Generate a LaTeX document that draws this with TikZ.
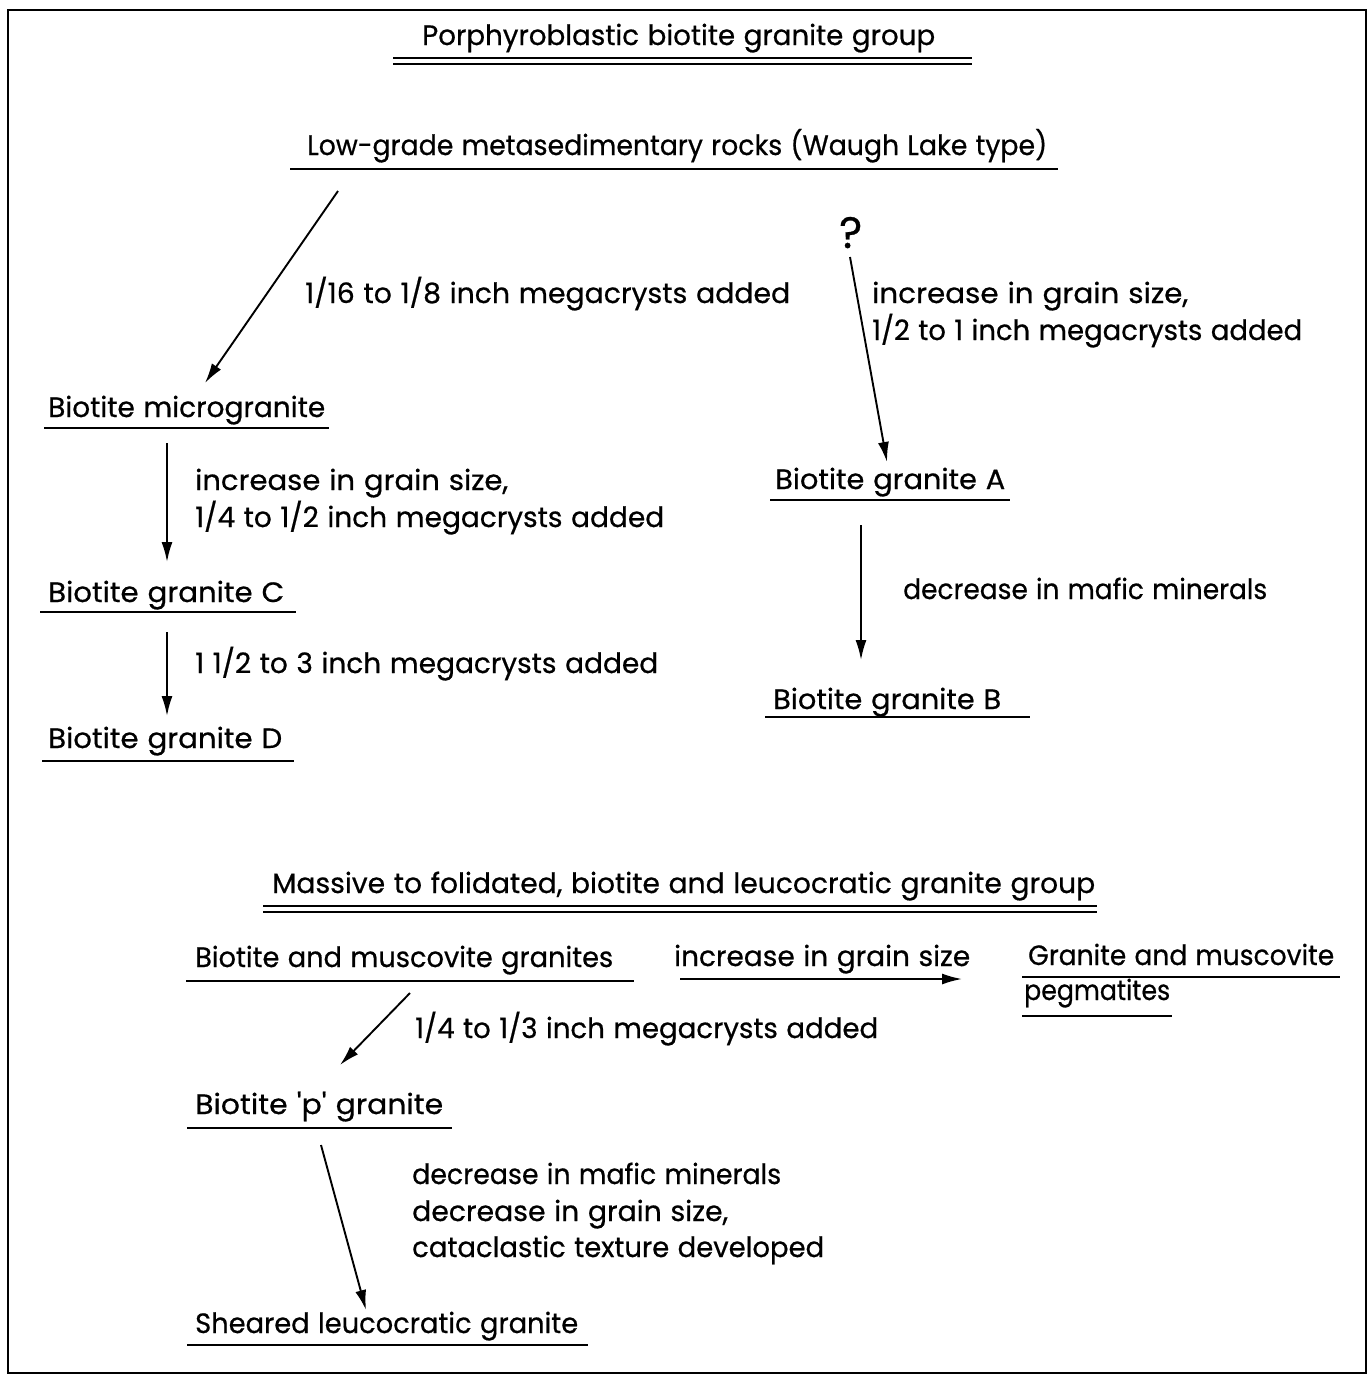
\documentclass[tikz,border=0pt]{standalone}
\usepackage{fontspec}
\setmainfont[WordSpace=1.15,FakeBold=0.6]{Poppins}
\usetikzlibrary{arrows.meta}
\newcommand\fitw[2]{\resizebox{#1pt}{\height}{#2}}
\tikzset{
  lbl/.style={anchor=base west, inner sep=0pt, font=\fontsize{28}{28}\selectfont},
  uline/.style={line width=2.2pt},
  conn/.style={line width=1.9pt, -{Latex[length=20pt,width=11pt]}},
  frame/.style={line width=1.8pt}
}
\begin{document}
\begin{tikzpicture}[x=1pt,y=-1pt]
\useasboundingbox (0,0) rectangle (1372,1376);
\draw[frame] (8,10) rectangle (1366,1373);
% titles
\node[lbl] (t1) at (422,45) {\fitw{513}{Porphyroblastic biotite granite group}};
\draw[uline] (393,58) -- (972,58);
\draw[uline] (393,64) -- (972,64);
\node[lbl] (low) at (307,155) {\fitw{740}{Low-grade metasedimentary rocks (Waugh Lake type)}};
\draw[uline] (290,169) -- (1058,169);
% left branch
\node[lbl] (bm) at (48,417) {\fitw{277}{Biotite microgranite}};
\draw[uline] (44,428) -- (329,428);
\node[lbl] (bc) at (48,602) {\fitw{236}{Biotite granite C}};
\draw[uline] (40,612) -- (296,612);
\node[lbl] (bd) at (48,748) {\fitw{234}{Biotite granite D}};
\draw[uline] (42,761) -- (294,761);
\coordinate (a1s) at (338,191); \coordinate (a1e) at (205,383);
\draw[conn] (a1s) -- (a1e);
\node[lbl] (l1) at (305,303) {\fitw{485}{1/16 to 1/8 inch megacrysts added}};
\coordinate (a2s) at (167,443); \coordinate (a2e) at (167,562);
\draw[conn] (a2s) -- (a2e);
\node[lbl] (l2a) at (195,490) {\fitw{313}{increase in grain size,}};
\node[lbl] (l2b) at (195,527) {\fitw{469}{1/4 to 1/2 inch megacrysts added}};
\coordinate (a3s) at (167,632); \coordinate (a3e) at (167,716);
\draw[conn] (a3s) -- (a3e);
\node[lbl] (l3) at (195,673) {\fitw{463}{1 1/2 to 3 inch megacrysts added}};
% right branch
\node[lbl, font=\fontsize{44}{44}\selectfont] (q) at (839,248) {?};
\coordinate (a4s) at (850,257); \coordinate (a4e) at (887,462);
\draw[conn] (a4s) -- (a4e);
\node[lbl] (l4a) at (872,303) {\fitw{316}{increase in grain size,}};
\node[lbl] (l4b) at (872,340) {\fitw{430}{1/2 to 1 inch megacrysts added}};
\node[lbl] (ba) at (775,489) {\fitw{230}{Biotite granite A}};
\draw[uline] (770,500) -- (1010,500);
\coordinate (a5s) at (861,525); \coordinate (a5e) at (861,660);
\draw[conn] (a5s) -- (a5e);
\node[lbl] (l5) at (903,599) {\fitw{364}{decrease in mafic minerals}};
\node[lbl] (bb) at (773,709) {\fitw{228}{Biotite granite B}};
\draw[uline] (765,717) -- (1030,717);
% second group
\node[lbl] (t2) at (272,893) {\fitw{823}{Massive to folidated, biotite and leucocratic granite group}};
\draw[uline] (263,906) -- (1097,906);
\draw[uline] (263,912) -- (1097,912);
\node[lbl] (bmg) at (195,967) {\fitw{418}{Biotite and muscovite granites}};
\draw[uline] (186,981) -- (634,981);
\node[lbl] (l6) at (674,966) {\fitw{296}{increase in grain size}};
\coordinate (a6s) at (680,979); \coordinate (a6e) at (962,979);
\draw[conn] (a6s) -- (a6e);
\node[lbl] (gm1) at (1028,965) {\fitw{306}{Granite and muscovite}};
\draw[uline] (1022,977) -- (1340,977);
\node[lbl] (gm2) at (1024,1000) {\fitw{146}{pegmatites}};
\draw[uline] (1022,1016) -- (1172,1016);
\coordinate (a7s) at (410,993); \coordinate (a7e) at (340,1065);
\draw[conn] (a7s) -- (a7e);
\node[lbl] (l7) at (415,1038) {\fitw{463}{1/4 to 1/3 inch megacrysts added}};
\node[lbl] (bp) at (195,1114) {\fitw{248}{Biotite \textquotesingle p\textquotesingle\ granite}};
\draw[uline] (187,1128) -- (452,1128);
\coordinate (a8s) at (321,1145); \coordinate (a8e) at (366,1310);
\draw[conn] (a8s) -- (a8e);
\node[lbl] (l8a) at (412,1184) {\fitw{369}{decrease in mafic minerals}};
\node[lbl] (l8b) at (412,1221) {\fitw{316}{decrease in grain size,}};
\node[lbl] (l8c) at (412,1257) {\fitw{412}{cataclastic texture developed}};
\node[lbl] (sl) at (195,1333) {\fitw{383}{Sheared leucocratic granite}};
\draw[uline] (187,1345) -- (588,1345);
\end{tikzpicture}
\end{document}
